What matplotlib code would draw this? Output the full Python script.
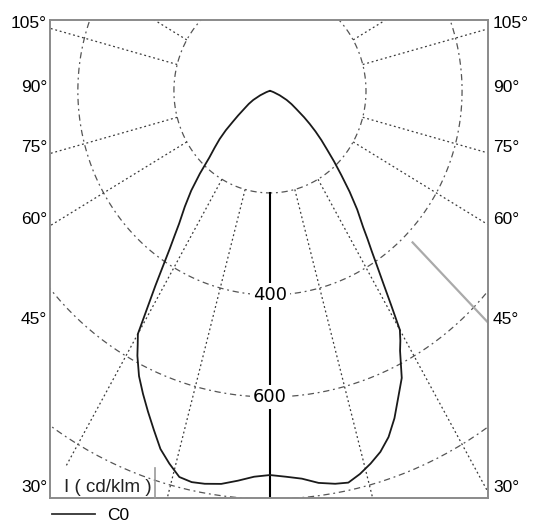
import numpy as np
import matplotlib
matplotlib.use('Agg')
import matplotlib.pyplot as plt
from matplotlib.lines import Line2D

plt.rcParams['font.family'] = ['Liberation Sans', 'DejaVu Sans']

# gamma angles (deg) and luminous intensity (cd/klm), left and right half of the C0 curve
gamma = [0, 2.5, 5, 7.5, 10, 12, 14, 16, 18, 20, 22, 24, 26, 28, 29, 30, 31, 32, 33, 34,
         35, 36, 38, 40, 42, 44, 46, 48, 50, 52, 54, 57, 60, 63, 67, 72, 80, 90]
i_left = [753, 757, 767, 777, 782, 784, 780, 760, 738, 707, 678, 650, 622, 588, 568, 550,
          495, 450, 408, 373, 346, 322, 288, 255, 218, 182, 160, 141, 120, 98, 82, 63,
          51, 39, 22, 8, 2, 0]
i_right = [753, 757, 763, 775, 782, 785, 774, 760, 744, 722, 692, 657, 626, 577, 560, 541,
           490, 446, 410, 379, 354, 330, 295, 258, 222, 192, 165, 144, 124, 105, 88, 66,
           52, 39, 22, 8, 2, 0]

rings = [200, 400, 600, 800]
ring_labels = [400, 600]
radial_left = [15, 30, 60, 75, 105, 120]
radial_right = [15, 30, 60, 75, 105, 120]
angle_labels = ['105°', '90°', '75°', '60°', '45°', '30°']
label_y_px = [24, 87, 148, 219, 319, 488]

W, H = 533, 525
fig = plt.figure(figsize=(W / 100, H / 100), dpi=100)
ax = fig.add_axes([50 / W, 27 / H, 438 / W, 478 / H])
ax.set_xlim(-458, 454)
ax.set_ylim(-798, 139)
ax.set_xticks([])
ax.set_yticks([])
for s in ax.spines.values():
    s.set_color('#8a8a8a')
    s.set_linewidth(1.4)

# rings
t = np.linspace(0, 2 * np.pi, 400)
for r in rings:
    ax.plot(r * np.sin(t), r * np.cos(t), color='#555555', lw=0.9,
            ls=(0, (5, 3, 1.5, 3)), zorder=1)

# radial lines
def radial(ang, side, r0=200, r1=2000, **kw):
    a = np.radians(ang)
    rr = np.array([r0, r1])
    ax.plot(side * rr * np.sin(a), -rr * np.cos(a), **kw)

for a in radial_left:
    r1 = 850 if a == 30 else 2000
    radial(a, -1, r1=r1, color='#3a3a3a', lw=0.9, ls=(0, (1.5, 2.2)), zorder=1)
for a in radial_right:
    radial(a, 1, color='#3a3a3a', lw=0.9, ls=(0, (1.5, 2.2)), zorder=1)
radial(45, 1, r0=420, color='#aaaaaa', lw=1.6, zorder=1)

# nadir axis
ax.plot([0, 0], [-200, -2000], color='black', lw=1.5, zorder=2)

# intensity curve
g = np.radians(gamma)
xl = -np.array(i_left) * np.sin(g)
yl = -np.array(i_left) * np.cos(g)
xr = np.array(i_right) * np.sin(g)
yr = -np.array(i_right) * np.cos(g)
cx = np.concatenate([xl[::-1], xr])
cy = np.concatenate([yl[::-1], yr])
ax.plot(cx, cy, color='#1a1a1a', lw=1.3, zorder=3, solid_joinstyle='round')

for v in ring_labels:
    ax.text(0, -v, str(v), ha='center', va='center', fontsize=13, zorder=4,
            family='DejaVu Sans',
            bbox=dict(facecolor='white', edgecolor='none', pad=2))

for lab, ypx in zip(angle_labels, label_y_px):
    fig.text(47 / W, 1 - ypx / H, lab, ha='right', va='center', fontsize=12.5)
    fig.text(493 / W, 1 - ypx / H, lab, ha='left', va='center', fontsize=12.5)

fig.text(64 / W, 1 - 488 / H, 'I ( cd/klm )', ha='left', va='center', fontsize=13.5,
         color='#222222')
fig.add_artist(Line2D([155 / W, 155 / W], [1 - 468 / H, 1 - 498 / H],
                      transform=fig.transFigure, color='#999999', lw=1.2))

fig.add_artist(Line2D([52 / W, 95 / W], [1 - 514 / H, 1 - 514 / H],
                      transform=fig.transFigure, color='#333333', lw=1.3))
fig.text(107 / W, 1 - 515 / H, 'C0', ha='left', va='center', fontsize=12.5)

fig.savefig('out.png', dpi=100)
